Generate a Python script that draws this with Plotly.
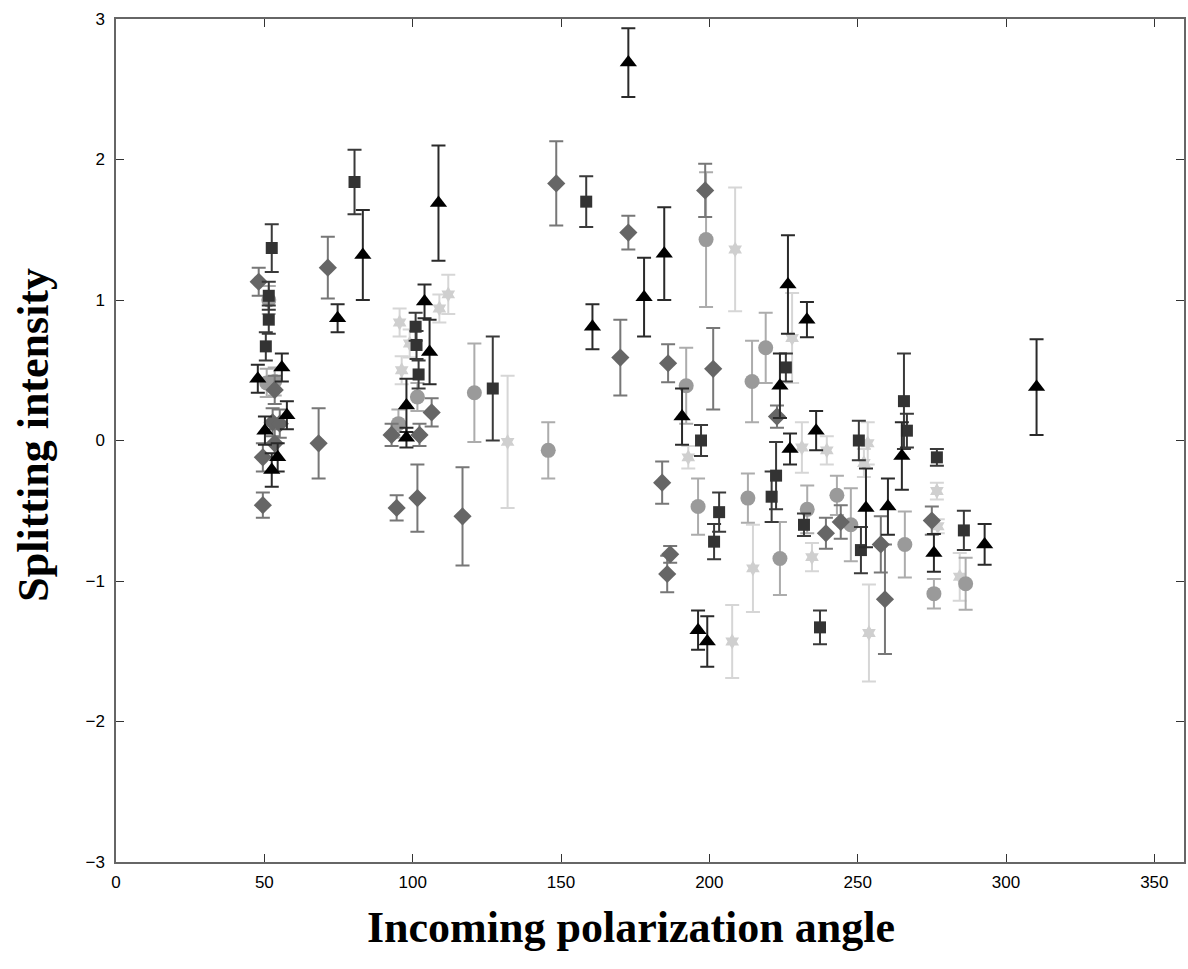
import plotly.graph_objects as go

# Black triangles
tri_x = [47.8, 55.9, 57.6, 50.2, 54.5, 52.5, 74.7, 83.2, 97.9, 97.9, 104.0, 105.7, 108.7, 160.6, 172.7, 178.0,
         184.8, 190.8, 196.2, 199.3, 223.8, 226.5, 227.2, 232.9, 236.0, 252.8, 260.2, 264.9, 275.7, 292.8, 310.3]
tri_y = [0.44, 0.52, 0.18, 0.07, -0.12, -0.21, 0.87, 1.32, 0.25, 0.02, 0.99, 0.63, 1.69, 0.81, 2.69, 1.02,
         1.33, 0.17, -1.35, -1.43, 0.39, 1.11, -0.06, 0.86, 0.07, -0.48, -0.47, -0.11, -0.80, -0.74, 0.38]
tri_e = [0.1, 0.1, 0.1, 0.1, 0.1, 0.12, 0.1, 0.32, 0.19, 0.07, 0.12, 0.23, 0.41, 0.16, 0.245, 0.28,
         0.33, 0.2, 0.14, 0.18, 0.23, 0.35, 0.11, 0.125, 0.14, 0.28, 0.2, 0.24, 0.135, 0.145, 0.34]

# Dark squares
sq_x = [52.5, 51.5, 51.5, 50.5, 80.4, 101.0, 101.3, 102.0, 127.0, 158.5, 197.2, 203.3, 201.6, 221.0, 222.5,
        225.8, 231.9, 237.3, 250.4, 251.1, 265.6, 266.6, 276.7, 285.8]
sq_y = [1.37, 1.03, 0.86, 0.67, 1.84, 0.81, 0.68, 0.47, 0.37, 1.70, 0.0, -0.51, -0.72, -0.40, -0.25,
        0.52, -0.60, -1.33, 0.0, -0.78, 0.28, 0.07, -0.12, -0.64]
sq_e = [0.17, 0.1, 0.1, 0.1, 0.23, 0.1, 0.1, 0.1, 0.37, 0.18, 0.11, 0.14, 0.125, 0.18, 0.24,
        0.1, 0.08, 0.12, 0.14, 0.165, 0.34, 0.12, 0.06, 0.14]

# Grey diamonds
dia_x = [48.1, 53.5, 52.8, 55.2, 53.5, 49.5, 49.5, 68.3, 71.4, 92.9, 94.6, 102.3, 101.6, 106.4, 116.8, 148.4,
         170.0, 172.7, 184.1, 186.1, 186.8, 185.8, 198.6, 201.3, 222.8, 239.3, 244.3, 257.8, 259.2, 275.0]
dia_y = [1.13, 0.36, 0.13, 0.12, -0.02, -0.12, -0.46, -0.02, 1.23, 0.04, -0.48, 0.04, -0.41, 0.20, -0.54, 1.83,
         0.59, 1.48, -0.30, 0.55, -0.81, -0.95, 1.78, 0.51, 0.17, -0.66, -0.58, -0.74, -1.13, -0.57]
dia_e = [0.1, 0.1, 0.1, 0.1, 0.1, 0.1, 0.09, 0.25, 0.22, 0.08, 0.09, 0.08, 0.24, 0.1, 0.35, 0.3,
         0.27, 0.12, 0.15, 0.135, 0.06, 0.13, 0.19, 0.29, 0.08, 0.11, 0.12, 0.2, 0.39, 0.1]

# Light grey circles
cir_x = [51.5, 50.8, 53.5, 95.2, 101.6, 120.8, 145.7, 192.2, 196.2, 198.9, 213.0, 214.4, 219.0, 223.8, 233.0,
         243.0, 247.7, 265.9, 275.7, 286.4]
cir_y = [1.0, 0.41, 0.42, 0.12, 0.31, 0.34, -0.07, 0.39, -0.47, 1.43, -0.41, 0.42, 0.66, -0.84, -0.49,
         -0.39, -0.60, -0.74, -1.09, -1.02]
cir_e = [0.1, 0.1, 0.1, 0.1, 0.1, 0.35, 0.2, 0.27, 0.2, 0.48, 0.175, 0.29, 0.25, 0.26, 0.17,
         0.14, 0.26, 0.235, 0.105, 0.185]

# Very light hexagrams
hex_x = [95.6, 96.3, 99.0, 109.0, 112.0, 132.0, 192.9, 208.7, 207.7, 214.7, 227.9, 231.2, 234.6, 239.6, 252.1,
         253.4, 253.8, 276.7, 277.0, 284.4]
hex_y = [0.84, 0.50, 0.69, 0.94, 1.04, -0.01, -0.12, 1.36, -1.43, -0.91, 0.73, -0.05, -0.83, -0.07, -0.16,
         -0.02, -1.37, -0.36, -0.61, -0.97]
hex_e = [0.1, 0.1, 0.1, 0.1, 0.14, 0.47, 0.08, 0.44, 0.26, 0.31, 0.32, 0.18, 0.1, 0.1, 0.1,
         0.15, 0.345, 0.06, 0.05, 0.17]

x_ticks = [0, 50, 100, 150, 200, 250, 300, 350]
y_ticks = [-3, -2, -1, 0, 1, 2, 3]

x_title = "Incoming polarization angle"
y_title = "Splitting intensity"

series = [
    (hex_x, hex_y, hex_e, "hexagram", 12, "#cfcfcf", "#d6d6d6"),
    (cir_x, cir_y, cir_e, "circle", 15, "#9a9a9a", "#acacac"),
    (dia_x, dia_y, dia_e, "diamond", 14, "#666666", "#777777"),
    (sq_x, sq_y, sq_e, "square", 12, "#333333", "#3a3a3a"),
    (tri_x, tri_y, tri_e, "triangle-up", 15, "#000000", "#2a2a2a"),
]

fig = go.Figure()
for xs, ys, es, sym, sz, col, ecol in series:
    fig.add_trace(go.Scatter(
        x=xs, y=ys, mode="markers",
        marker=dict(symbol=sym, size=sz, color=col, line=dict(width=0)),
        error_y=dict(type="data", array=es, visible=True, color=ecol, thickness=2, width=7),
        showlegend=False,
    ))

axis_common = dict(
    showgrid=False, zeroline=False, showline=True, linecolor="#666666", linewidth=1.5,
    mirror="allticks", ticks="inside", ticklen=8, tickcolor="#333333", tickwidth=1,
    tickfont=dict(family="Liberation Sans, Arial", size=17, color="#000000"),
)

title_font = dict(family="Liberation Serif, Times New Roman", size=44, color="#000", weight="bold")

fig.update_layout(
    width=1188, height=969,
    margin=dict(l=116, r=2, t=19, b=107),
    paper_bgcolor="white", plot_bgcolor="white",
    xaxis=dict(range=[0, 360], tickvals=x_ticks, ticklabelstandoff=4, **axis_common),
    yaxis=dict(range=[-3, 3], tickvals=y_ticks, ticklabelstandoff=6, **axis_common),
    annotations=[
        dict(text=x_title, xref="paper", yref="paper", x=0.482, y=-0.078,
             xanchor="center", yanchor="middle", showarrow=False, font=title_font),
        dict(text=y_title, xref="paper", yref="paper", x=-0.0776, y=0.507,
             xanchor="center", yanchor="middle", textangle=-90, showarrow=False, font=title_font),
    ],
)

fig.write_html("out.html")
